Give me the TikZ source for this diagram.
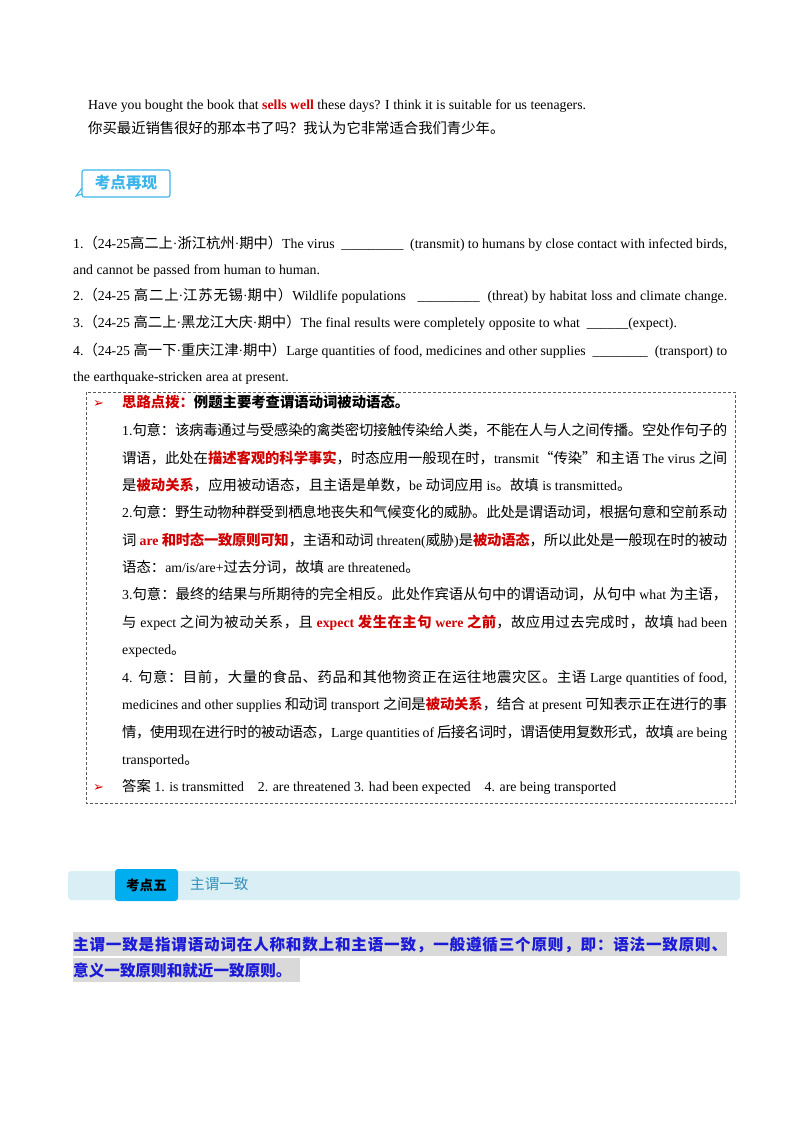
\documentclass[tikz,border=0pt]{standalone}
\usepackage{fontspec}
\setmainfont{Liberation Serif}
\newfontfamily\cjk[Scale=1.04]{Noto Sans CJK SC}
\newfontfamily\dejavu{DejaVu Sans}
\XeTeXinterchartokenstate=1
\newXeTeXintercharclass\cjkclass
\newcount\cc
\cc="4E00 \loop\ifnum\cc<"9FFF \XeTeXcharclass\cc=\cjkclass \advance\cc 1 \repeat
\cc="3000 \loop\ifnum\cc<"3040 \XeTeXcharclass\cc=\cjkclass \advance\cc 1 \repeat
\cc="FF00 \loop\ifnum\cc<"FFF0 \XeTeXcharclass\cc=\cjkclass \advance\cc 1 \repeat
\XeTeXcharclass"201C=\cjkclass \XeTeXcharclass"201D=\cjkclass
\XeTeXinterchartoks 0 \cjkclass={\begingroup\cjk}
\XeTeXinterchartoks 4095 \cjkclass={\begingroup\cjk}
\XeTeXinterchartoks \cjkclass 0={\endgroup}
\XeTeXinterchartoks \cjkclass 4095={\endgroup}
\XeTeXinterchartoks \cjkclass \cjkclass={\hskip 0pt plus 4pt minus 1pt\relax}
\definecolor{rd}{HTML}{D00000}
\definecolor{bl}{HTML}{1A1AD8}
\definecolor{cy}{HTML}{DAEFF5}
\definecolor{tab}{HTML}{00AEEF}
\definecolor{badge}{HTML}{3DB5EA}
\newcommand\rb[1]{\textbf{\color{rd}#1}}
\newcommand\jw[2]{\hbox to #1pt{\spaceskip=.25em plus .15em minus .08em\relax #2}}
\begin{document}
\begin{tikzpicture}[x=1pt,y=-1pt,
  ln/.style={anchor=base west,inner sep=0pt,font=\fontsize{13.8}{15}\selectfont},
  arr/.style={anchor=base west,inner sep=0pt,text=rd,font=\dejavu\fontsize{13}{14}\selectfont}]
\useasboundingbox (0,0) rectangle (800,1132);
\fill[white] (0,0) rectangle (800,1132);
\node[ln] (a1) at (88,109) {Have you bought the book that \rb{sells well} these days? I think it is suitable for us teenagers.};
\node[ln] (a2) at (88,133) {你买最近销售很好的那本书了吗？我认为它非常适合我们青少年。};
% badge
\draw[badge,line width=1.1pt,rounded corners=2pt] (82,170) rectangle (170,197);
\draw[badge,line width=1.1pt] (82,188) -- (76,196) -- (82,194);
\node[inner sep=0pt,text=badge,font=\bfseries\fontsize{15}{16}\selectfont] (badge) at (126,183) {考点再现};
% questions
\node[ln] (q1) at (73,248) {\jw{654}{1.（24-25高二上·浙江杭州·期中）The virus \ \_\_\_\_\_\_\_\_\_ \ (transmit) to humans by close contact with infected birds,}};
\node[ln] (q1b) at (73,274) {and cannot be passed from human to human.};
\node[ln] (q2) at (73,300) {\jw{654}{2.（24-25 高二上·江苏无锡·期中）Wildlife populations \ \ \_\_\_\_\_\_\_\_\_ \ (threat) by habitat loss and climate change.}};
\node[ln] (q3) at (73,327) {3.（24-25 高二上·黑龙江大庆·期中）The final results were completely opposite to what \ \_\_\_\_\_\_(expect).};
\node[ln] (q4) at (73,355) {\jw{654}{4.（24-25 高一下·重庆江津·期中）Large quantities of food, medicines and other supplies \ \_\_\_\_\_\_\_\_ \ (transport) to}};
\node[ln] (q4b) at (73,381) {the earthquake-stricken area at present.};
% dashed box
\draw[gray!70!black,densely dashed,line width=0.6pt] (86,392) rectangle (735,803);
\node[arr] (ar1) at (93,407) {➢};
\node[ln] (b0) at (122,407) {\textbf{\color{rd}思路点拨：}\textbf{例题主要考查谓语动词被动语态。}};
\node[ln] (b1) at (122,435) {\jw{605}{1.句意：该病毒通过与受感染的禽类密切接触传染给人类，不能在人与人之间传播。空处作句子的}};
\node[ln] (b2) at (122,463) {\jw{605}{谓语，此处在\rb{描述客观的科学事实}，时态应用一般现在时，transmit“传染”和主语 The virus 之间}};
\node[ln] (b3) at (122,490) {是\rb{被动关系}，应用被动语态，且主语是单数，be 动词应用 is。故填 is transmitted。};
\node[ln] (b4) at (122,517) {\jw{605}{2.句意：野生动物种群受到栖息地丧失和气候变化的威胁。此处是谓语动词，根据句意和空前系动}};
\node[ln] (b5) at (122,545) {\jw{605}{词 \rb{are 和时态一致原则可知}，主语和动词 threaten(威胁)是\rb{被动语态}，所以此处是一般现在时的被动}};
\node[ln] (b6) at (122,572) {语态：am/is/are+过去分词，故填 are threatened。};
\node[ln] (b7) at (122,599) {\jw{605}{3.句意：最终的结果与所期待的完全相反。此处作宾语从句中的谓语动词，从句中 what 为主语，}};
\node[ln] (b8) at (122,627) {\jw{605}{与 expect 之间为被动关系，且 \rb{expect 发生在主句 were 之前}，故应用过去完成时，故填 had been}};
\node[ln] (b9) at (122,654) {expected。};
\node[ln] (b10) at (122,682) {\jw{605}{4. 句意：目前，大量的食品、药品和其他物资正在运往地震灾区。主语 Large quantities of food,}};
\node[ln] (b11) at (122,709) {\jw{605}{medicines and other supplies 和动词 transport 之间是\rb{被动关系}，结合 at present 可知表示正在进行的事}};
\node[ln] (b12) at (122,737) {\jw{605}{情，使用现在进行时的被动语态，Large quantities of 后接名词时，谓语使用复数形式，故填 are being}};
\node[ln] (b13) at (122,764) {transported。};
\node[arr] (ar2) at (93,791) {➢};
\node[ln] (b14) at (122,791) {答案 1. is transmitted \ \ \ 2. are threatened 3. had been expected \ \ \ 4. are being transported};
% section bar
\fill[cy,rounded corners=3pt] (68,871) rectangle (740,900);
\fill[tab,rounded corners=3pt] (115,869) rectangle (178,901);
\node[inner sep=0pt,font=\bfseries\fontsize{13}{14}\selectfont] (k5) at (146.5,885) {考点五};
\node[anchor=west,inner sep=0pt,text=badge!80!black,font=\fontsize{14}{15}\selectfont] (k5t) at (190,884) {主谓一致};
% highlighted text
\fill[gray!30] (73,932) rectangle (727,956);
\fill[gray!30] (73,958) rectangle (300,982);
\node[anchor=base west,inner sep=0pt,text=bl,font=\bfseries\fontsize{15}{16}\selectfont] (h1) at (73,950) {\jw{654}{主谓一致是指谓语动词在人称和数上和主语一致，一般遵循三个原则，即：语法一致原则、}};
\node[anchor=base west,inner sep=0pt,text=bl,font=\bfseries\fontsize{15}{16}\selectfont] (h2) at (73,976) {意义一致原则和就近一致原则。};
\end{tikzpicture}
\end{document}
